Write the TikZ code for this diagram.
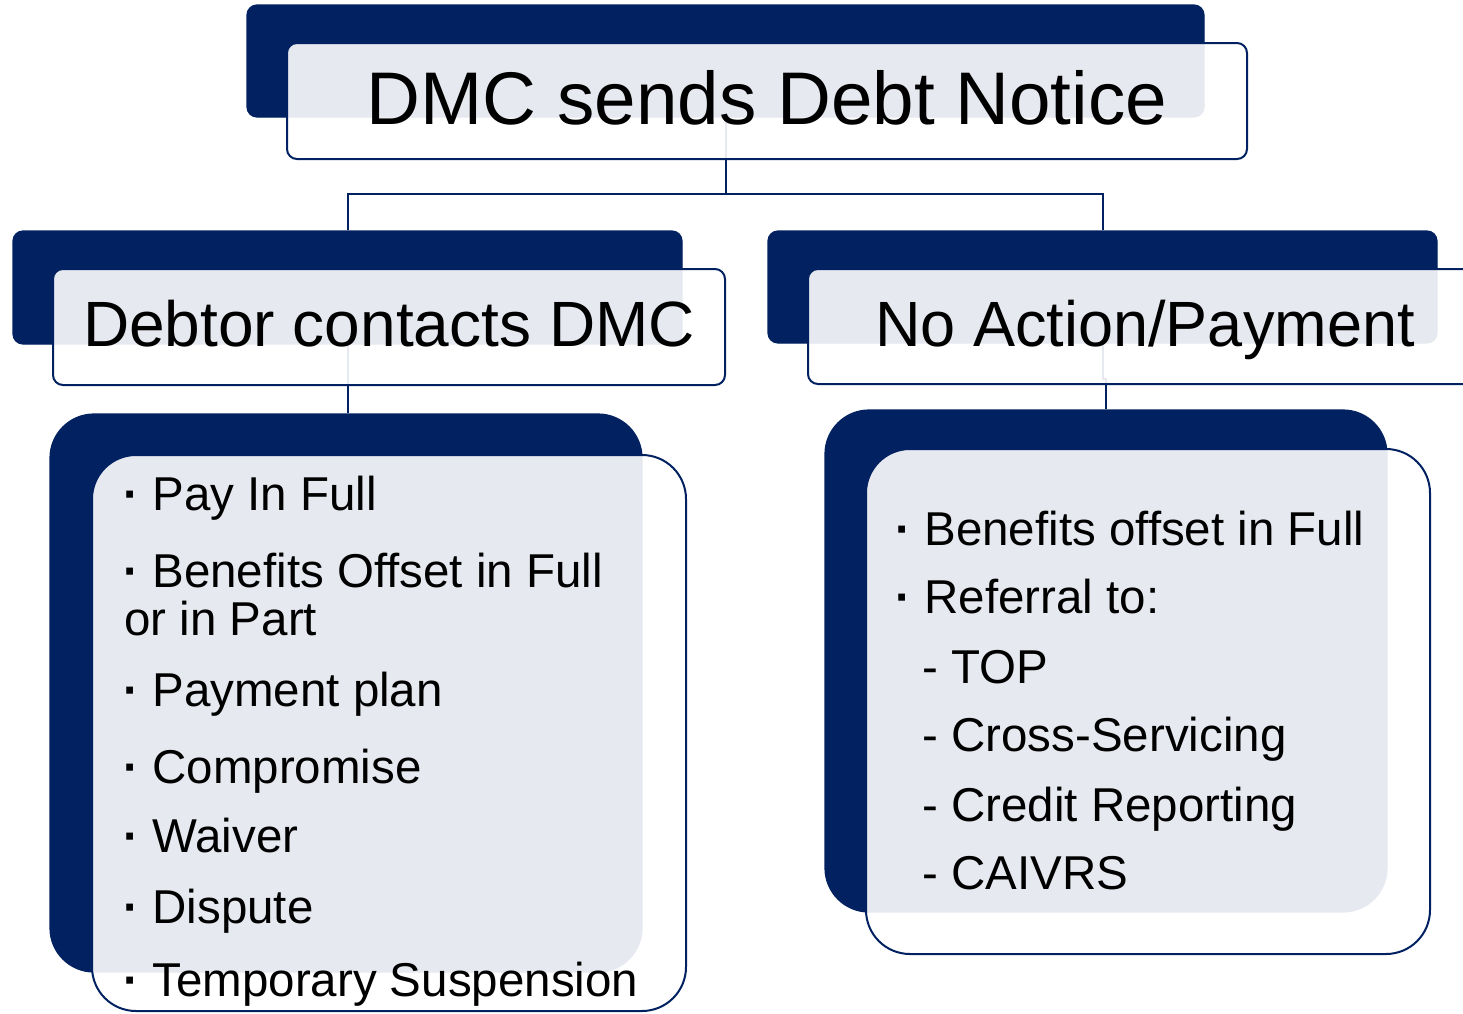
\documentclass[tikz,border=0pt]{standalone}
\usepackage{fontspec}
\setmainfont{Liberation Sans}
\usetikzlibrary{fit}
\definecolor{navy}{RGB}{2,33,96}
\newcommand{\blt}{\textbf{·}}
\begin{document}
\begin{tikzpicture}[x=0.5pt,y=-0.5pt,
  darkbox/.style={draw=navy,fill=navy,line width=0.6pt,inner sep=0pt},
  frontbox/.style={draw=navy,fill=white,fill opacity=0.9,line width=1pt,inner sep=0pt},
  conn/.style={draw=navy,line width=1pt},
  big/.style={inner sep=0pt,anchor=base,font=\fontsize{37.3pt}{44pt}\selectfont},
  mid/.style={inner sep=0pt,anchor=base,font=\fontsize{32pt}{38pt}\selectfont},
  item/.style={inner sep=0pt,anchor=base west,font=\fontsize{23.75pt}{28pt}\selectfont}]
\useasboundingbox (0,0) rectangle (1463,1013);
\clip (0,0) rectangle (1463,1013);
% back (dark) boxes
\node[darkbox,rounded corners=5pt,fit={(247,5)(1204,117)}] (topD) {};
\node[darkbox,rounded corners=5pt,fit={(13,231)(682,344)}] (leftD) {};
\node[darkbox,rounded corners=5pt,fit={(768,231)(1437,343)}] (rightD) {};
\node[darkbox,rounded corners=22pt,fit={(50,414)(642,972)}] (leftBD) {};
\node[darkbox,rounded corners=22pt,fit={(825,410)(1387,912)}] (rightBD) {};
% connectors
\draw[conn] (topD.south) -- ++(0,76) -| (leftD.north);
\draw[conn] (topD.south) ++(0,76) -| (rightD.north);
\draw[conn] (leftD.south) -- (leftD.south |- leftBD.north);
\draw[conn] (rightD.south) -- ++(0,35) -| (rightBD.north);
% front boxes
\node[frontbox,rounded corners=5pt,fit={(287,43)(1247,159)}] (topF) {};
\node[frontbox,rounded corners=5pt,fit={(53,269)(725,385)}] (leftF) {};
\node[frontbox,rounded corners=5pt,fit={(808,269)(1490,384)}] (rightF) {};
\node[frontbox,rounded corners=22pt,fit={(92,455)(686,1011)}] (leftBF) {};
\node[frontbox,rounded corners=22pt,fit={(866,449)(1430,954)}] (rightBF) {};
% titles
\node[big] (t0) at (767,124) {DMC sends Debt Notice};
\node[mid] (t1) at (389,346) {Debtor contacts DMC};
\node[mid] (t2) at (1145,346) {\scalebox{0.985}[1]{No Action/Payment}};
% left list
\node[item] (l1) at (123,510) {\blt{} Pay In Full};
\node[item] (l2) at (123,587) {\blt{} Benefits Offset in Full};
\node[item] (l3) at (124,635) {or in Part};
\node[item] (l4) at (123,706) {\blt{} Payment plan};
\node[item] (l5) at (123,783) {\blt{} Compromise};
\node[item] (l6) at (123,852) {\blt{} Waiver};
\node[item] (l7) at (123,923) {\blt{} Dispute};
\node[item] (l8) at (123,996) {\blt{} Temporary Suspension};
% right list
\node[item] (r1) at (895,545) {\blt{} Benefits offset in Full};
\node[item] (r2) at (895,613) {\blt{} Referral to:};
\node[item] (r3) at (922,683) {- TOP};
\node[item] (r4) at (922,751) {- Cross-Servicing};
\node[item] (r5) at (922,821) {- Credit Reporting};
\node[item] (r6) at (922,889) {- CAIVRS};
\end{tikzpicture}
\end{document}
